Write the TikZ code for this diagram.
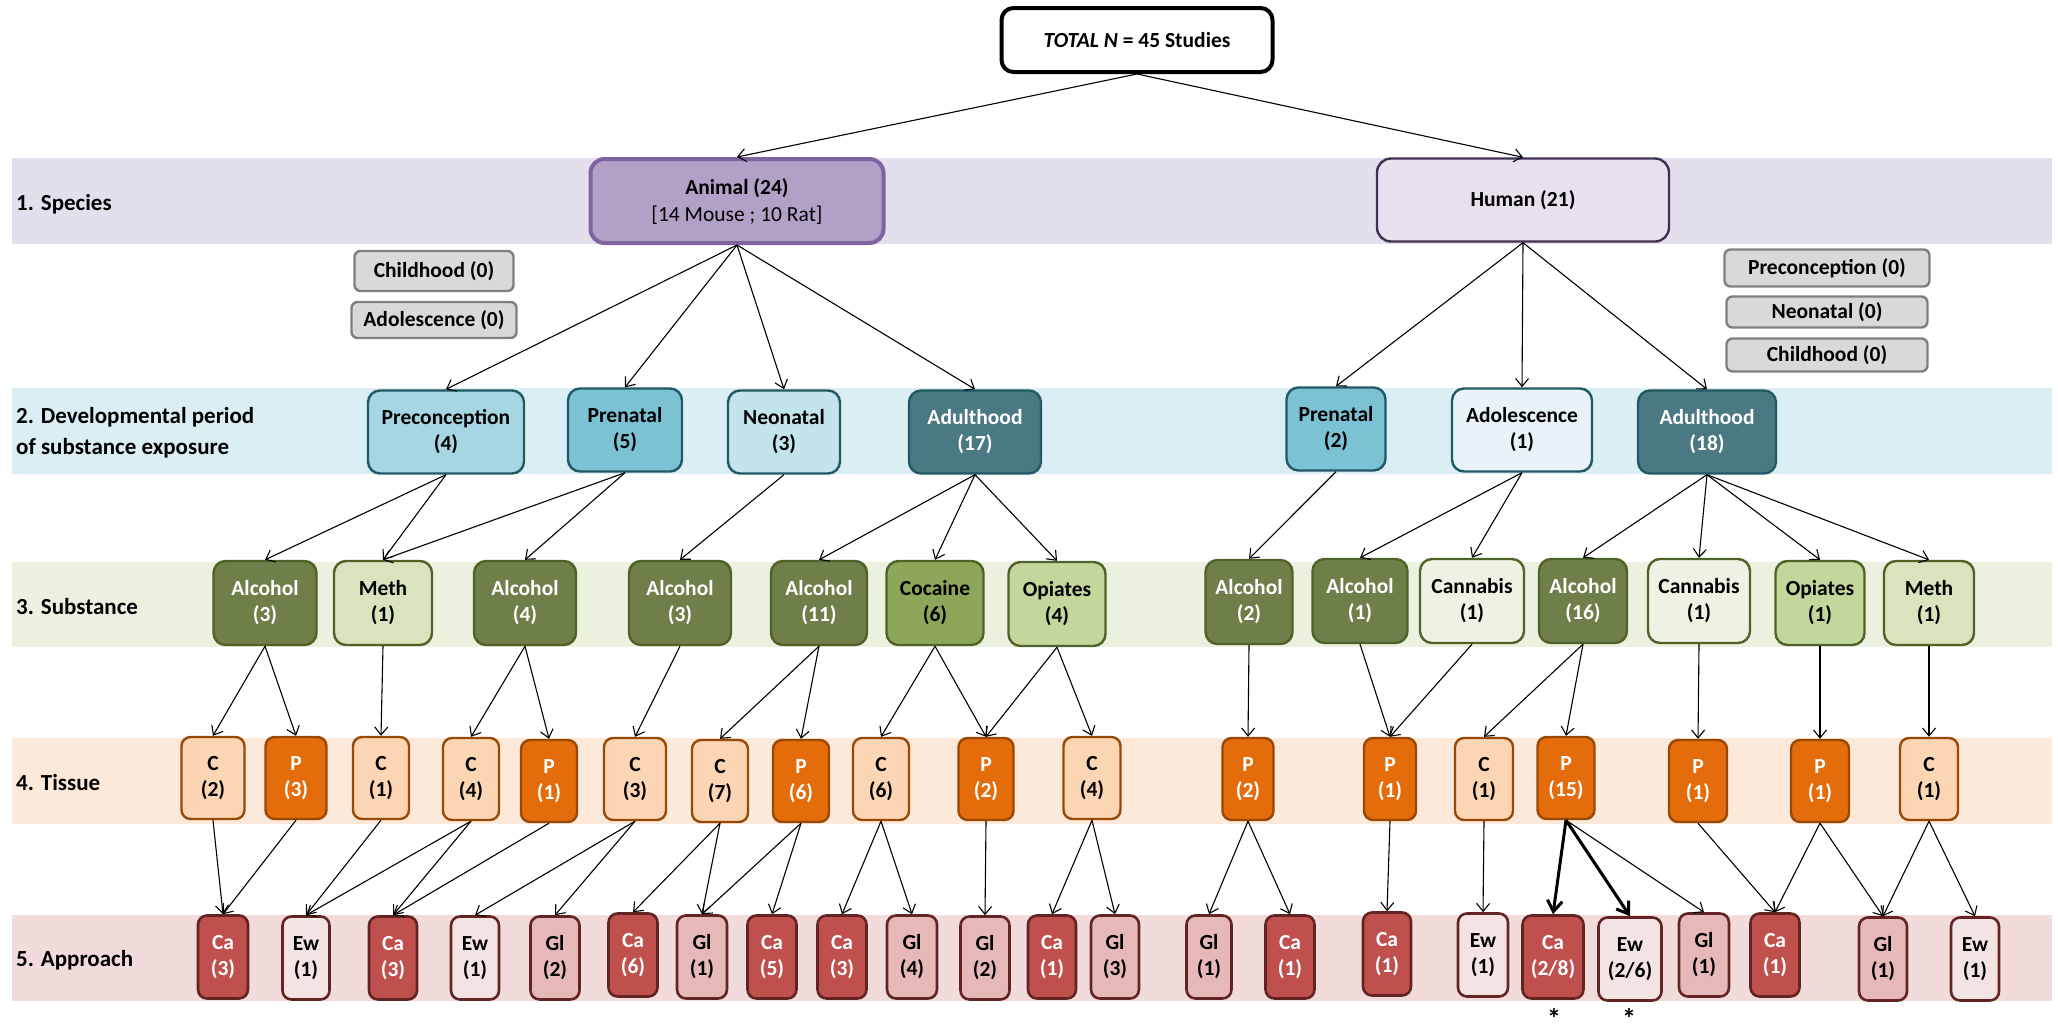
\documentclass[tikz,border=0pt]{standalone}
\usepackage{fontspec}
\setmainfont{Carlito}
\usetikzlibrary{arrows.meta}
\definecolor{bandA}{HTML}{E4DFEC}
\definecolor{bandB}{HTML}{DAEEF3}
\definecolor{bandC}{HTML}{EBF1DE}
\definecolor{bandD}{HTML}{FDE9D9}
\definecolor{bandE}{HTML}{F2DCDB}
\definecolor{animalF}{HTML}{B2A1C7}
\definecolor{animalD}{HTML}{8064A2}
\definecolor{humanF}{HTML}{E6E1ED}
\definecolor{humanD}{HTML}{3F3151}
\definecolor{zeroF}{HTML}{D9D9D9}
\definecolor{zeroD}{HTML}{7F7F7F}
\definecolor{devD}{HTML}{215967}
\definecolor{preconF}{HTML}{A6D6E3}
\definecolor{prenF}{HTML}{7BC2D5}
\definecolor{neoF}{HTML}{C2E4EB}
\definecolor{adultF}{HTML}{4A7984}
\definecolor{adolF}{HTML}{E7F3F7}
\definecolor{subD}{HTML}{4F6228}
\definecolor{alcF}{HTML}{6E7F4A}
\definecolor{methF}{HTML}{D7E4BD}
\definecolor{cocF}{HTML}{8EA65A}
\definecolor{opiF}{HTML}{C3D69B}
\definecolor{canF}{HTML}{EDF2E2}
\definecolor{tisD}{HTML}{984807}
\definecolor{tcF}{HTML}{FCD5B4}
\definecolor{tpF}{HTML}{E46C0A}
\definecolor{appD}{HTML}{632523}
\definecolor{caF}{HTML}{C0504D}
\definecolor{ewF}{HTML}{F4E3E3}
\definecolor{glF}{HTML}{E6B9B8}
\begin{document}
\begin{tikzpicture}[x=1pt,y=-1pt,
  box/.style={draw, rounded corners=9pt, line width=2.4pt, inner sep=0pt, align=center,
    font=\fontsize{21.5}{26}\selectfont\bfseries},
  lbl/.style={anchor=west, inner sep=0pt, align=left, font=\fontsize{23}{31}\selectfont\bfseries},
  arr/.style={line width=1.1pt, -{Straight Barb[length=8pt,width=13pt]}},
  thickarr/.style={line width=3pt, -{Straight Barb[length=11pt,width=15pt]}},
  animal/.style={box, fill=animalF, draw=animalD, line width=4pt, rounded corners=14pt},
  human/.style={box, fill=humanF, draw=humanD, rounded corners=14pt},
  zero/.style={box, fill=zeroF, draw=zeroD, rounded corners=6pt, font=\fontsize{21.5}{24}\selectfont\bfseries},
  dev/.style={box, draw=devD, minimum height=83pt, rounded corners=12pt},
  sub/.style={box, draw=subD, minimum height=84pt, rounded corners=12pt},
  tis/.style={box, draw=tisD, minimum height=82pt},
  app/.style={box, draw=appD, minimum height=83pt, line width=2.6pt},
  wt/.style={text=white},
  star/.style={inner sep=0pt, font=\fontsize{28}{28}\selectfont\bfseries}
]
\useasboundingbox (0,0) rectangle (2058,1023);
% bands
\fill[bandA] (12,158) rectangle (2052,244);
\fill[bandB] (12,388) rectangle (2052,474);
\fill[bandC] (12,562) rectangle (2052,647);
\fill[bandD] (12,738) rectangle (2052,824);
\fill[bandE] (12,915) rectangle (2052,1001);
% band labels
\node[lbl] (l1) at (16,204) {1. Species};
\node[lbl] (l2) at (16,433) {2. Developmental period\\of substance exposure};
\node[lbl] (l3) at (16,607) {3. Substance};
\node[lbl] (l4) at (16,783) {4. Tissue};
\node[lbl] (l5) at (16,960) {5. Approach};
% total
\node[box, fill=white, draw=black, line width=4pt, rounded corners=12pt, minimum width=271pt, minimum height=64pt,
  font=\fontsize{21.5}{25}\selectfont\bfseries] (tot) at (1137,40) {\textit{TOTAL N} = 45 Studies};
% species
\node[animal, minimum width=293pt, minimum height=84pt, font=\fontsize{21.5}{27}\selectfont\bfseries] (ani) at (737,201)
  {Animal (24)\\{\mdseries [14 Mouse ; 10 Rat]}};
\node[human, minimum width=292pt, minimum height=83pt] (hum) at (1523,200) {Human (21)};
% zero boxes
\node[zero, minimum width=159pt, minimum height=40pt] (z1) at (434,271) {Childhood (0)};
\node[zero, minimum width=165pt, minimum height=36pt] (z2) at (434,320) {Adolescence (0)};
\node[zero, minimum width=205pt, minimum height=37pt] (z3) at (1827,268) {Preconception (0)};
\node[zero, minimum width=201pt, minimum height=31pt] (z4) at (1827,312) {Neonatal (0)};
\node[zero, minimum width=201pt, minimum height=33pt] (z5) at (1827,355) {Childhood (0)};
% developmental period
\node[dev, fill=preconF, minimum width=156pt] (dpc) at (446,432) {Preconception\\(4)};
\node[dev, fill=prenF, minimum width=114pt] (dpn) at (625,430) {Prenatal\\(5)};
\node[dev, fill=neoF, minimum width=112pt] (dnn) at (784,432) {Neonatal\\(3)};
\node[dev, fill=adultF, wt, minimum width=132pt] (dad) at (975,432) {Adulthood\\(17)};
\node[dev, fill=prenF, minimum width=99pt] (hpn) at (1336,429) {Prenatal\\(2)};
\node[dev, fill=adolF, minimum width=140pt] (hado) at (1522,430) {Adolescence\\(1)};
\node[dev, fill=adultF, wt, minimum width=138pt] (hadu) at (1707,432) {Adulthood\\(18)};
% substance
\node[sub, fill=alcF, wt, minimum width=103pt] (s1) at (265,603) {Alcohol\\(3)};
\node[sub, fill=methF, minimum width=98pt] (s2) at (383,603) {Meth\\(1)};
\node[sub, fill=alcF, wt, minimum width=102pt] (s3) at (525,603) {Alcohol\\(4)};
\node[sub, fill=alcF, wt, minimum width=102pt] (s4) at (680,603) {Alcohol\\(3)};
\node[sub, fill=alcF, wt, minimum width=96pt] (s5) at (819,603) {Alcohol\\(11)};
\node[sub, fill=cocF, minimum width=97pt] (s6) at (935,603) {Cocaine\\(6)};
\node[sub, fill=opiF, minimum width=97pt] (s7) at (1057,604) {Opiates\\(4)};
\node[sub, fill=alcF, wt, minimum width=87pt] (s8) at (1249,602) {Alcohol\\(2)};
\node[sub, fill=alcF, wt, minimum width=95pt] (s9) at (1360,601) {Alcohol\\(1)};
\node[sub, fill=canF, minimum width=104pt] (s10) at (1472,601) {Cannabis\\(1)};
\node[sub, fill=alcF, wt, minimum width=88pt] (s11) at (1583,601) {Alcohol\\(16)};
\node[sub, fill=canF, minimum width=102pt] (s12) at (1699,601) {Cannabis\\(1)};
\node[sub, fill=opiF, minimum width=89pt] (s13) at (1820,603) {Opiates\\(1)};
\node[sub, fill=methF, minimum width=90pt] (s14) at (1929,603) {Meth\\(1)};
% tissue
\node[tis, fill=tcF, minimum width=63pt] (t1) at (213,778) {C\\(2)};
\node[tis, fill=tpF, wt, minimum width=61pt] (t2) at (296,778) {P\\(3)};
\node[tis, fill=tcF, minimum width=56pt] (t3) at (381,778) {C\\(1)};
\node[tis, fill=tcF, minimum width=56pt] (t4) at (471,779) {C\\(4)};
\node[tis, fill=tpF, wt, minimum width=56pt] (t5) at (549,781) {P\\(1)};
\node[tis, fill=tcF, minimum width=62pt] (t6) at (635,779) {C\\(3)};
\node[tis, fill=tcF, minimum width=56pt] (t7) at (720,781) {C\\(7)};
\node[tis, fill=tpF, wt, minimum width=56pt] (t8) at (801,781) {P\\(6)};
\node[tis, fill=tcF, minimum width=56pt] (t9) at (881,779) {C\\(6)};
\node[tis, fill=tpF, wt, minimum width=55pt] (t10) at (986,779) {P\\(2)};
\node[tis, fill=tcF, minimum width=57pt] (t11) at (1092,778) {C\\(4)};
\node[tis, fill=tpF, wt, minimum width=51pt] (t12) at (1248,779) {P\\(2)};
\node[tis, fill=tpF, wt, minimum width=52pt] (t13) at (1390,779) {P\\(1)};
\node[tis, fill=tcF, minimum width=58pt] (t14) at (1484,779) {C\\(1)};
\node[tis, fill=tpF, wt, minimum width=57pt] (t15) at (1566,778) {P\\(15)};
\node[tis, fill=tpF, wt, minimum width=58pt] (t16) at (1698,781) {P\\(1)};
\node[tis, fill=tpF, wt, minimum width=58pt] (t17) at (1820,781) {P\\(1)};
\node[tis, fill=tcF, minimum width=58pt] (t18) at (1929,779) {C\\(1)};
% approach
\node[app, fill=caF, wt, minimum width=50pt] (a1) at (223,957) {Ca\\(3)};
\node[app, fill=ewF, minimum width=47pt] (a2) at (306,958) {Ew\\(1)};
\node[app, fill=caF, wt, minimum width=48pt] (a3) at (393,958) {Ca\\(3)};
\node[app, fill=ewF, minimum width=48pt] (a4) at (475,958) {Ew\\(1)};
\node[app, fill=glF, minimum width=49pt] (a5) at (555,958) {Gl\\(2)};
\node[app, fill=caF, wt, minimum width=49pt] (a6) at (633,955) {Ca\\(6)};
\node[app, fill=glF, minimum width=50pt] (a7) at (702,957) {Gl\\(1)};
\node[app, fill=caF, wt, minimum width=49pt] (a8) at (772,957) {Ca\\(5)};
\node[app, fill=caF, wt, minimum width=49pt] (a9) at (842,957) {Ca\\(3)};
\node[app, fill=glF, minimum width=50pt] (a10) at (912,957) {Gl\\(4)};
\node[app, fill=glF, minimum width=49pt] (a11) at (985,958) {Gl\\(2)};
\node[app, fill=caF, wt, minimum width=48pt] (a12) at (1052,957) {Ca\\(1)};
\node[app, fill=glF, minimum width=48pt] (a13) at (1115,957) {Gl\\(3)};
\node[app, fill=glF, minimum width=45pt] (a14) at (1209,957) {Gl\\(1)};
\node[app, fill=caF, wt, minimum width=49pt] (a15) at (1290,957) {Ca\\(1)};
\node[app, fill=caF, wt, minimum width=48pt] (a16) at (1387,954) {Ca\\(1)};
\node[app, fill=ewF, minimum width=50pt] (a17) at (1483,955) {Ew\\(1)};
\node[app, fill=caF, wt, minimum width=61pt] (a18) at (1553,957) {Ca\\(2/8)};
\node[app, fill=ewF, minimum width=63pt] (a19) at (1630,959) {Ew\\(2/6)};
\node[app, fill=glF, minimum width=50pt] (a20) at (1704,955) {Gl\\(1)};
\node[app, fill=caF, wt, minimum width=49pt] (a21) at (1775,955) {Ca\\(1)};
\node[app, fill=glF, minimum width=48pt] (a22) at (1883,959) {Gl\\(1)};
\node[app, fill=ewF, minimum width=48pt] (a23) at (1975,959) {Ew\\(1)};
% asterisks
\node[star] (ast1) at (1554,1018) {*};
\node[star] (ast2) at (1629,1018) {*};
% connectors level 0-1
\draw[arr] (tot.south) -- (ani.north);
\draw[arr] (tot.south) -- (hum.north);
% level 1-2
\foreach \c in {dpc,dpn,dnn,dad} \draw[arr] (ani.south) -- (\c.north);
\foreach \c in {hpn,hado,hadu} \draw[arr] (hum.south) -- (\c.north);
% level 2-3
\foreach \p/\c in {dpc/s1,dpc/s2,dpn/s2,dpn/s3,dnn/s4,dad/s5,dad/s6,dad/s7,hpn/s8,hado/s9,hado/s10,hadu/s11,hadu/s12,hadu/s13,hadu/s14}
  \draw[arr] (\p.south) -- (\c.north);
% level 3-4
\foreach \p/\c in {s1/t1,s1/t2,s2/t3,s3/t4,s3/t5,s4/t6,s5/t7,s5/t8,s6/t9,s6/t10,s7/t10,s7/t11,s8/t12,s9/t13,s10/t13,s11/t14,s11/t15,s12/t16,s13/t17,s14/t18}
  \draw[arr] (\p.south) -- (\c.north);
% level 4-5
\foreach \p/\c in {t1/a1,t2/a1,t3/a2,t4/a2,t4/a3,t5/a3,t6/a4,t6/a5,t7/a6,t7/a7,t8/a7,t8/a8,t9/a9,t9/a10,t10/a11,t11/a12,t11/a13,t12/a14,t12/a15,t13/a16,t14/a17,t15/a20,t16/a21,t17/a21,t17/a22,t18/a22,t18/a23}
  \draw[arr] (\p.south) -- (\c.north);
\draw[thickarr] (t15.south) -- (a18.north);
\draw[thickarr] (t15.south) -- (a19.north);
\end{tikzpicture}
\end{document}
